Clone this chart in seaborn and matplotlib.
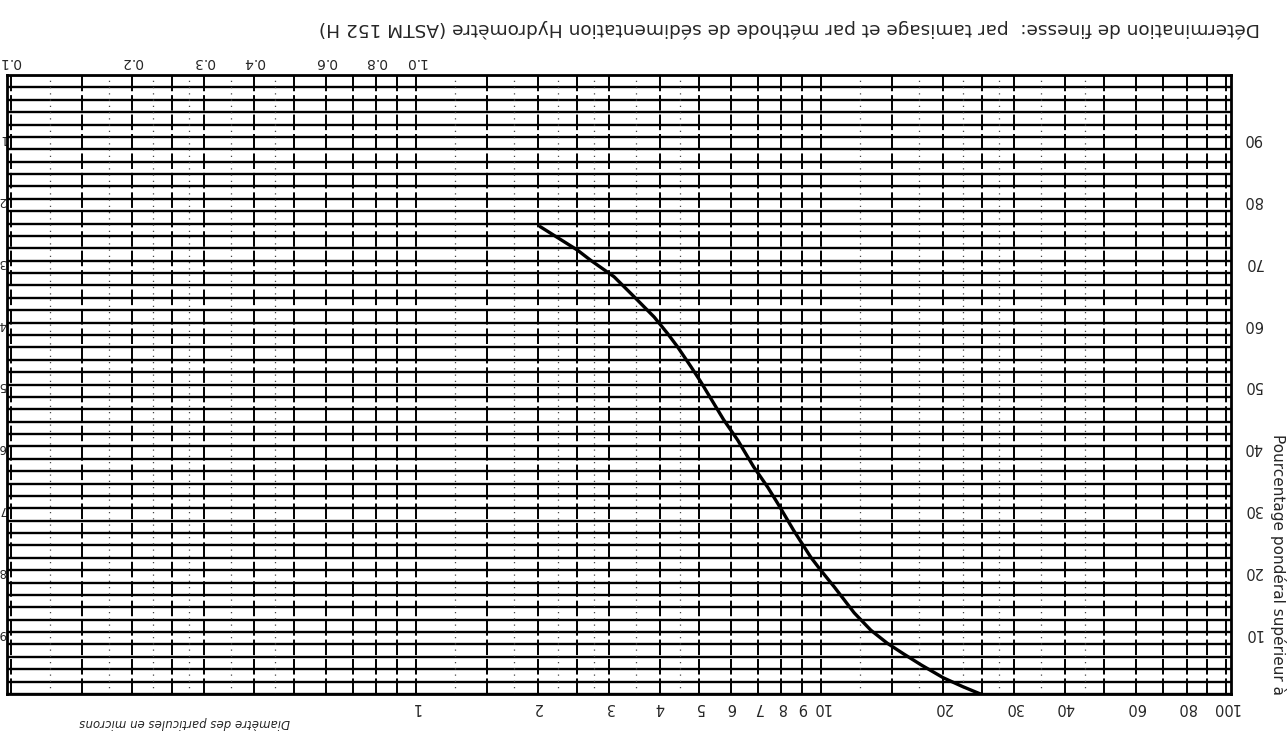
import numpy as np
import pandas as pd
import matplotlib
matplotlib.use("Agg")
import matplotlib.pyplot as plt
from matplotlib.ticker import NullFormatter
import seaborn as sns

# ---- data read from the (upside-down scanned) chart ----
diametre_um = [2.03, 2.51, 2.70, 3.09, 3.46, 3.88, 4.18, 4.43, 4.78, 5.05, 5.76, 6.24, 6.83,
               7.40, 7.83, 8.58, 9.45, 10.0, 10.8, 12.1, 13.3, 14.6, 16.0, 17.7, 20.1, 22.4, 24.8]
pourcentage_sup = [75.5, 71.7, 70.1, 67.4, 64.2, 60.9, 58.3, 56.1, 52.9, 50.5, 44.3, 41.0, 36.7,
                   33.4, 30.8, 26.4, 22.1, 20.0, 17.3, 13.1, 10.3, 8.2, 6.5, 4.7, 2.6, 1.2, 0.0]

bottom_ticks = [1, 2, 3, 4, 5, 6, 7, 8, 9, 10, 20, 30, 40, 60, 80, 100]
bottom_labels = ["1", "2", "3", "4", "5", "6", "7", "8", "9", "10", "20", "30", "40", "60", "80", "100"]
top_ticks = [0.1, 0.2, 0.3, 0.4, 0.6, 0.8, 1.0]
top_labels = ["0.1", "0.2", "0.3", "0.4", "0.6", "0.8", "1.0"]
right_ticks = [10, 20, 30, 40, 50, 60, 70, 80, 90]
right_labels = ["10", "20", "30", "40", "50", "60", "70", "80", "90"]
left_ticks = [10, 20, 30, 40, 50, 60, 70, 80, 90]
left_labels = ["1", "2", "3", "4", "5", "6", "7", "8", "9"]

grid_mult = [1, 1.5, 2, 2.5, 3, 4, 5, 6, 7, 8, 9]
grid_decades = [0.1, 1, 10]
dotted_mult = [1.25, 1.75, 2.25, 2.75, 3.5, 4.5]
y_grid_step = 2

title = "Détermination de finesse:  par tamisage et par méthode de sédimentation Hydromètre (ASTM 152 H)"
xlabel = "Diamètre des particules en microns"
ylabel = "Pourcentage pondéral supérieur à"

# ---- figure ----
sns.set_style("white")
plt.rcParams["font.family"] = ["DejaVu Sans"]

W, H = 1288, 741
fig = plt.figure(figsize=(W / 100, H / 100), dpi=100)
ax_left, ax_right, ax_top, ax_bottom = 7, 1231, 75, 694
ax = fig.add_axes([ax_left / W, 1 - ax_bottom / H, (ax_right - ax_left) / W, (ax_bottom - ax_top) / H])

df = pd.DataFrame({"d": diametre_um, "p": pourcentage_sup})
sns.lineplot(data=df, x="d", y="p", ax=ax, color="black", linewidth=2.4, sort=True, zorder=5)

ax.set_xscale("log")
ax.set_xlim(0.098, 103)
ax.set_ylim(0, 100)
ax.set_xlabel("")
ax.set_ylabel("")

# grid
grid_x = [m * d for d in grid_decades for m in grid_mult] + [100]
dotted_x = [m * d for d in grid_decades for m in dotted_mult]
ax.set_xticks(grid_x, minor=True)
ax.set_yticks(np.arange(0, 101, y_grid_step), minor=True)
ax.vlines(dotted_x, 0, 100, colors="#444444", linestyles=(0, (1, 4)), linewidth=0.9, zorder=1)
ax.grid(which="both", axis="x", color="black", linewidth=1.4, linestyle=(0, (8, 2)), zorder=2)
ax.grid(which="both", axis="y", color="black", linewidth=1.7, linestyle="-", zorder=2)

for s in ax.spines.values():
    s.set_visible(True)
    s.set_linewidth(2)
    s.set_color("black")

# bottom labels (upside-down)
ax.set_xticks(bottom_ticks)
ax.set_xticklabels(bottom_labels)
ax.xaxis.set_minor_formatter(NullFormatter())
ax.tick_params(axis="x", which="both", length=0, pad=4, labelsize=10.5, labelrotation=180)

# right labels
ax.yaxis.tick_right()
ax.set_yticks(right_ticks)
ax.set_yticklabels(right_labels)
ax.tick_params(axis="y", which="both", length=0, pad=9, labelsize=10.5, labelrotation=180)

# top labels
secx = ax.secondary_xaxis("top")
secx.set_xticks(top_ticks)
secx.set_xticklabels(top_labels)
secx.xaxis.set_minor_formatter(NullFormatter())
secx.tick_params(axis="x", which="both", length=0, pad=4, labelsize=10, labelrotation=180)
secx.spines["top"].set_visible(False)

# left labels (complement, at the page edge)
secy = ax.secondary_yaxis("left", functions=(lambda p: 100 - p, lambda q: 100 - q))
secy.set_yticks(left_ticks)
secy.set_yticklabels(left_labels)
secy.tick_params(axis="y", which="both", length=0, pad=0.5, labelsize=8.5, labelrotation=180)
secy.spines["left"].set_visible(False)

fig.text(789 / W, 1 - 28 / H, title, rotation=180, ha="center", va="center", fontsize=13.3)
fig.text(185 / W, 1 - 722 / H, xlabel, rotation=180, ha="center", va="center", fontsize=8.5, style="italic")
fig.text(1278 / W, 1 - 565 / H, ylabel, rotation=270, ha="center", va="center", fontsize=11)

fig.savefig("out.png", dpi=100)
